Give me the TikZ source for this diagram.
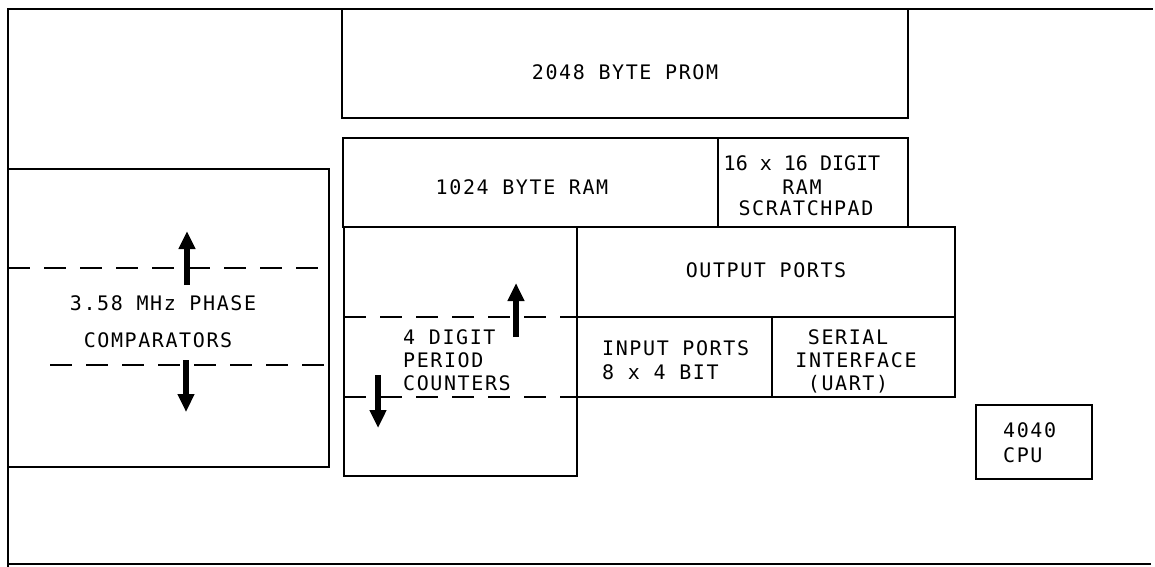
\documentclass[tikz,border=0pt]{standalone}
\usepackage{fontspec}
\setmainfont{DejaVu Sans Mono}[LetterSpace=8]
\newfontfamily\tightmono{DejaVu Sans Mono}[LetterSpace=0]
\usetikzlibrary{arrows.meta}
\begin{document}
\begin{tikzpicture}[x=1pt,y=-1pt,
  frame/.style={line width=1.2pt, line cap=rect},
  blk/.style={draw, line width=1.2pt, inner sep=0pt, outer sep=0pt, anchor=north west},
  lbl/.style={font=\fontsize{20}{23}\selectfont, inner sep=0pt},
  lbltight/.style={font=\tightmono\fontsize{20}{23}\selectfont, inner sep=0pt},
  bigarrow/.style={line width=6.5pt, -{Triangle[width=16pt,length=18pt]}},
  sep/.style={line width=1.1pt, dash pattern=on 22pt off 14pt}]
\useasboundingbox (0,0) rectangle (1155,566);
% outer frame
\draw[frame] (1152,9) -- (8,9) -- (8,566);
\draw[frame] (8,564) -- (1150,564);
% blocks
\node[blk, minimum width=566pt, minimum height=109pt] (prom) at (342,9) {};
\node[blk, minimum width=375pt, minimum height=89pt] (ram) at (343,138) {};
\node[blk, minimum width=190pt, minimum height=89pt] (scratch) at (718,138) {};
\node[blk, minimum width=378pt, minimum height=90pt] (outp) at (577,227) {};
\node[blk, minimum width=233pt, minimum height=249pt] (counter) at (344,227) {};
\node[blk, minimum width=195pt, minimum height=80pt] (inp) at (577,317) {};
\node[blk, minimum width=183pt, minimum height=80pt] (serial) at (772,317) {};
\node[blk, minimum width=321pt, minimum height=298pt] (phase) at (8,169) {};
\node[blk, minimum width=116pt, minimum height=74pt] (cpu) at (976,405) {};
% dashed separators
\draw[sep] (8,268) -- (329,268);
\draw[sep] (50,365) -- (329,365);
\draw[sep] (344,317) -- (577,317);
\draw[sep] (344,397) -- (577,397);
% arrows
\coordinate (pua) at (187,285); \coordinate (pub) at (187,231);
\coordinate (pda) at (186,360); \coordinate (pdb) at (186,412);
\coordinate (cua) at (516,337); \coordinate (cub) at (516,283);
\coordinate (cda) at (378,375); \coordinate (cdb) at (378,428);
\draw[bigarrow] (pua) -- (pub);
\draw[bigarrow] (pda) -- (pdb);
\draw[bigarrow] (cua) -- (cub);
\draw[bigarrow] (cda) -- (cdb);
% labels
\node[lbl, anchor=base] (tprom) at (625,79) {2048 BYTE PROM};
\node[lbl, anchor=base] (tram) at (522,194) {1024 BYTE RAM};
\node[lbltight, anchor=base] (ts1) at (802,170) {16 x 16 DIGIT};
\node[lbl, anchor=base] (ts2) at (802,194) {RAM};
\node[lbl, anchor=base] (ts3) at (806,215) {SCRATCHPAD};
\node[lbl, anchor=base] (tout) at (766,277) {OUTPUT PORTS};
\node[lbl, anchor=base west] (ti1) at (602,355) {INPUT PORTS};
\node[lbl, anchor=base west] (ti2) at (602,379) {8 x 4 BIT};
\node[lbl, anchor=base] (tse1) at (848,344) {SERIAL};
\node[lbl, anchor=base] (tse2) at (856,367) {INTERFACE};
\node[lbl, anchor=base] (tse3) at (848,390) {(UART)};
\node[lbl, anchor=base west] (tc1) at (403,344) {4 DIGIT};
\node[lbl, anchor=base west] (tc2) at (403,367) {PERIOD};
\node[lbl, anchor=base west] (tc3) at (403,390) {COUNTERS};
\node[lbl, anchor=base] (tp1) at (163,310) {3.58 MHz PHASE};
\node[lbl, anchor=base] (tp2) at (158,347) {COMPARATORS};
\node[lbl, anchor=base west] (tcpu1) at (1003,437) {4040};
\node[lbl, anchor=base west] (tcpu2) at (1003,462) {CPU};
\end{tikzpicture}
\end{document}
